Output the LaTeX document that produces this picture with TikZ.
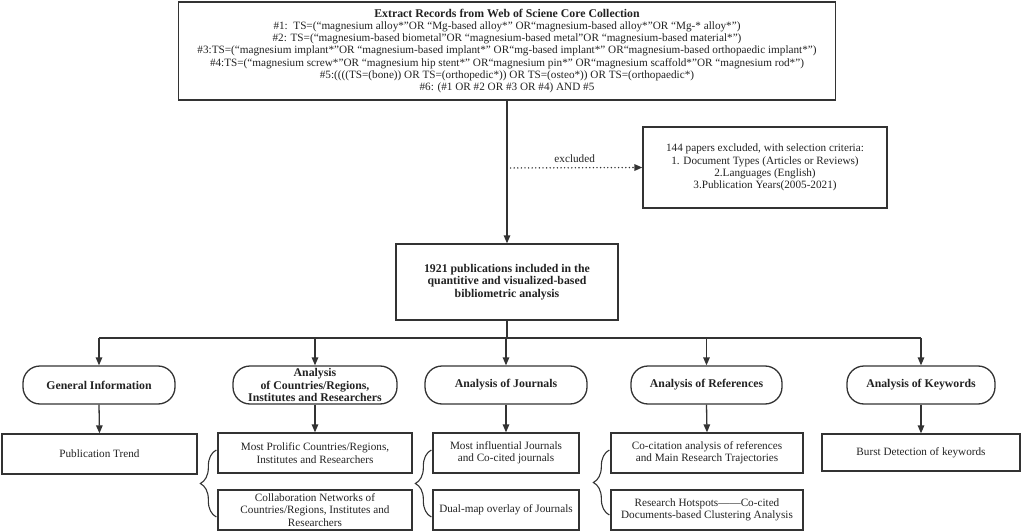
\documentclass[tikz,border=0pt]{standalone}
\usepackage{fontspec}
\setmainfont{Liberation Serif}
\usetikzlibrary{arrows.meta,decorations.pathreplacing}
\definecolor{ln}{HTML}{333333}
\definecolor{tx}{HTML}{222222}
\newcommand{\nfont}{\fontsize{11.2}{12.3}\selectfont}
\newcommand{\bfont}{\fontsize{11.8}{12.3}\selectfont\bfseries}
\tikzset{
  every node/.style={font=\nfont, text=tx},
  box/.style={draw=ln, line width=1.3pt, align=center, inner sep=1pt},
  pill/.style={draw=ln, line width=1.3pt, rounded corners=17pt, align=center, inner sep=0pt,
    font=\bfont, minimum height=38pt},
  arr/.style={draw=ln, line width=1.3pt, -{Triangle[length=8pt,width=6.5pt]}},
  dotarr/.style={draw=ln, line width=1.6pt, dash pattern=on 0pt off 3.6pt, line cap=round,
    -{Triangle[length=8pt,width=6.5pt,line cap=butt]}},
  conn/.style={draw=ln, line width=1.3pt},
  brc/.style={draw=ln, line width=1.1pt, decorate, decoration={brace, amplitude=16pt, aspect=0.5}},
}
\begin{document}
\begin{tikzpicture}[x=1pt,y=-1pt]
\useasboundingbox (0,0) rectangle (1031,532);
% top box
\node[box, minimum width=657pt, minimum height=98pt] (top) at (507,51)
 {{\bfont Extract Records from Web of Sciene Core Collection}\\
 \#1:\ \ TS=(“magnesium alloy*”OR “Mg-based alloy*” OR“magnesium-based alloy*”OR “Mg-* alloy*”)\\
 \#2: TS=(“magnesium-based biometal”OR “magnesium-based metal”OR “magnesium-based material*”)\\
 \#3:TS=(“magnesium implant*”OR “magnesium-based implant*” OR“mg-based implant*” OR“magnesium-based orthopaedic implant*”)\\
 \#4:TS=(“magnesium screw*”OR “magnesium hip stent*” OR“magnesium pin*” OR“magnesium scaffold*”OR “magnesium rod*”)\\
 \#5:((((TS=(bone)) OR TS=(orthopedic*)) OR TS=(osteo*)) OR TS=(orthopaedic*)\\
 \#6: (\#1 OR \#2 OR \#3 OR \#4) AND \#5};
% exclusion box
\node[box, minimum width=244pt, minimum height=81pt] (excl) at (765,167.5)
 {144 papers excluded, with selection criteria:\\
  1. Document Types (Articles or Reviews)\\
  2.Languages (English)\\
  3.Publication Years(2005-2021)};
% included
\node[box, minimum width=222pt, minimum height=76pt, font=\bfont] (incl) at (507,282)
 {1921 publications included in the\\quantitive and visualized-based\\bibliometric analysis};
\coordinate (ex) at (507,168);
\coordinate (bus) at (507,338);
\draw[arr] (top.south) -- (incl.north);
\draw[dotarr] (ex) -- node[above=3pt, inner sep=1pt]{excluded} (excl.west);
% pills
\node[pill, minimum width=152pt] (gi) at (99,385) {General Information};
\node[pill, minimum width=164pt] (cr) at (315,385) {Analysis\\of Countries/Regions,\\Institutes and Researchers};
\node[pill, minimum width=162pt] (jo) at (506,385) {Analysis of Journals};
\node[pill, minimum width=151pt] (re) at (706.5,385) {Analysis of References};
\node[pill, minimum width=148pt] (kw) at (921,385) {Analysis of Keywords};
\draw[conn] (incl.south) -- (bus);
\draw[conn] (gi.north |- bus) -- (kw.north |- bus);
\foreach \n in {gi,cr,jo,re,kw} \draw[arr] (\n.north |- bus) -- (\n.north);
% boxes
\node[box, minimum width=195pt, minimum height=40pt] (pt) at (99.5,454) {Publication Trend};
\node[box, minimum width=194pt, minimum height=40pt] (mp) at (315,453) {Most Prolific Countries/Regions,\\Institutes and Researchers};
\node[box, minimum width=194pt, minimum height=40pt] (cn) at (315,510) {Collaboration Networks of\\Countries/Regions, Institutes and\\Researchers};
\node[box, minimum width=146pt, minimum height=40pt] (mi) at (506,453) {Most influential Journals\\and Co-cited journals};
\node[box, minimum width=146pt, minimum height=40pt] (dm) at (506,510) {Dual-map overlay of Journals};
\node[box, minimum width=192pt, minimum height=40pt] (cc) at (707,453) {Co-citation analysis of references\\and Main Research Trajectories};
\node[box, minimum width=192pt, minimum height=40pt] (rh) at (707,510) {Research Hotspots——Co-cited\\Documents-based Clustering Analysis};
\node[box, minimum width=198pt, minimum height=37pt] (bd) at (921,452.5) {Burst Detection of keywords};
\draw[arr] (gi.south) -- (pt.north);
\draw[arr] (cr.south) -- (mp.north);
\draw[arr] (jo.south) -- (mi.north);
\draw[arr] (re.south) -- (cc.north);
\draw[arr] (kw.south) -- (bd.north);
% braces
\draw[brc] ([xshift=-1pt]cn.west |- 0,517) -- ([xshift=-1pt]mp.west |- 0,450);
\draw[brc] ([xshift=-1pt]dm.west |- 0,517) -- ([xshift=-1pt]mi.west |- 0,450);
\draw[brc] ([xshift=-1pt]rh.west |- 0,515) -- ([xshift=-1pt]cc.west |- 0,450);
\end{tikzpicture}
\end{document}
